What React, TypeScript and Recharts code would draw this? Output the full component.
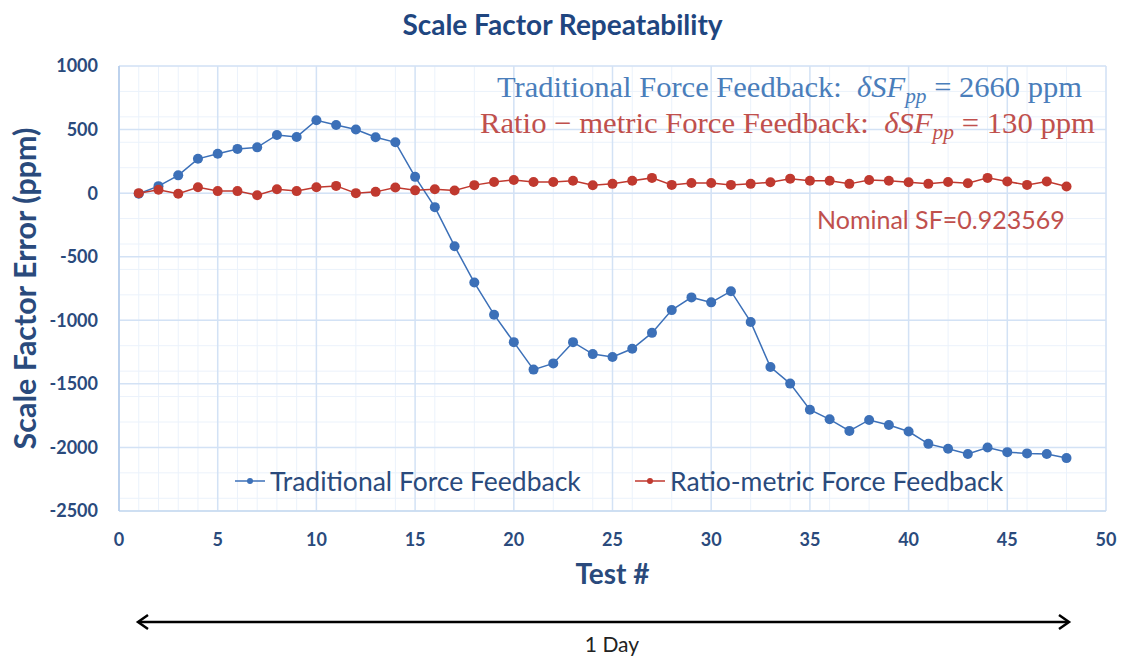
import React from 'react';
import { LineChart, Line, XAxis, YAxis, CartesianGrid, Label } from 'recharts';

// Test numbers (x) and scale factor error in ppm for each feedback scheme
const testNumbers = [
  1, 2, 3, 4, 5, 6, 7, 8, 9, 10, 11, 12, 13, 14, 15, 16, 17, 18, 19, 20, 21, 22, 23, 24,
  25, 26, 27, 28, 29, 30, 31, 32, 33, 34, 35, 36, 37, 38, 39, 40, 41, 42, 43, 44, 45, 46, 47, 48,
];
const traditional = [
  -5, 55, 140, 270, 310, 348, 360, 458, 442, 573, 536, 500, 440, 400, 128, -110,
  -417, -703, -956, -1172, -1388, -1339, -1172, -1266, -1289, -1224, -1099, -920, -820, -859, -771, -1013,
  -1368, -1498, -1703, -1779, -1870, -1784, -1823, -1875, -1972, -2011, -2052, -2000, -2037, -2047, -2052, -2084,
];
const ratiometric = [
  0, 26, -5, 47, 16, 16, -16, 31, 16, 47, 57, 0, 10, 44, 22, 31,
  21, 63, 88, 104, 88, 88, 98, 62, 73, 98, 120, 65, 80, 80, 65, 73,
  86, 114, 98, 98, 73, 104, 98, 86, 73, 88, 78, 120, 91, 65, 91, 52,
];

const xTicks = [0, 5, 10, 15, 20, 25, 30, 35, 40, 45, 50];
const yTicks = [-2500, -2000, -1500, -1000, -500, 0, 500, 1000];

const seriesNames = ['Traditional Force Feedback', 'Ratio-metric Force Feedback'];

const BLUE = '#3c70b8';
const RED = '#c0392f';
const NAVY = '#2a4a7c';

const data = testNumbers.map((t, i) => ({
  test: t,
  traditional: traditional[i],
  ratiometric: ratiometric[i],
}));

// minor grid every 1 test / 100 ppm
const xMinor = Array.from({ length: 51 }, (_, i) => i);
const yMinor = Array.from({ length: 36 }, (_, i) => -2500 + i * 100);

const FONT = 'Lato, "Open Sans", sans-serif';
const SERIF = '"Liberation Serif", serif';

const LegendItem = ({ left, color, label }: { left: number; color: string; label: string }) => (
  <div style={{ position: 'absolute', left, top: 465, display: 'flex', alignItems: 'center', height: 32 }}>
    <svg width={32} height={12} style={{ marginRight: 3 }}>
      <line x1={0} y1={6} x2={30} y2={6} stroke={color} strokeWidth={1.5} />
      <circle cx={15} cy={6} r={3} fill={color} />
    </svg>
    <span style={{ fontFamily: FONT, fontSize: 26.5, color: NAVY, whiteSpace: 'nowrap' }}>{label}</span>
  </div>
);

const App = () => {
  return (
    <div style={{ position: 'absolute', left: 0, top: 0, width: 1125, height: 661, background: '#fff' }}>
      <div
        style={{
          position: 'absolute',
          top: 7,
          left: 0,
          width: 1125,
          textAlign: 'center',
          fontFamily: FONT,
          fontWeight: 700,
          fontSize: 28,
          lineHeight: '34px',
          color: '#1f4680',
        }}
      >
        Scale Factor Repeatability
      </div>

      <LineChart width={1125} height={661} data={data} margin={{ top: 66, right: 19, bottom: 0, left: 0 }}>
        <CartesianGrid stroke="#ebf2fb" strokeWidth={1} verticalValues={xMinor} horizontalValues={yMinor} />
        <CartesianGrid stroke="#d3e2f5" strokeWidth={1.5} />
        <XAxis
          dataKey="test"
          type="number"
          domain={[0, 50]}
          ticks={xTicks}
          height={150}
          tickSize={0}
          tickMargin={22}
          axisLine={{ stroke: '#c9dbf1', strokeWidth: 1.5 }}
          tickLine={false}
          tick={{ fill: NAVY, fontSize: 18, fontWeight: 700, fontFamily: FONT }}
        >
          <Label
            value="Test #"
            position="insideTop"
            offset={53}
            style={{ fill: NAVY, fontSize: 28, fontWeight: 700, fontFamily: FONT }}
          />
        </XAxis>
        <YAxis
          type="number"
          domain={[-2500, 1000]}
          ticks={yTicks}
          width={119}
          tickSize={0}
          tickMargin={21}
          axisLine={{ stroke: '#b3cbea', strokeWidth: 1.5 }}
          tickLine={false}
          tick={{ fill: NAVY, fontSize: 18, fontWeight: 700, fontFamily: FONT }}
        >
          <Label
            value="Scale Factor Error (ppm)"
            angle={-90}
            position="insideLeft"
            offset={25}
            style={{ fill: NAVY, fontSize: 30.5, fontWeight: 700, fontFamily: FONT, textAnchor: 'middle' }}
          />
        </YAxis>
        <Line
          type="linear"
          dataKey="traditional"
          name={seriesNames[0]}
          stroke={BLUE}
          strokeWidth={1.5}
          dot={{ r: 5, fill: BLUE, stroke: BLUE, strokeWidth: 0 }}
          isAnimationActive={false}
        />
        <Line
          type="linear"
          dataKey="ratiometric"
          name={seriesNames[1]}
          stroke={RED}
          strokeWidth={1.5}
          dot={{ r: 5, fill: RED, stroke: RED, strokeWidth: 0 }}
          isAnimationActive={false}
        />
      </LineChart>

      <LegendItem left={235} color={BLUE} label={seriesNames[0]} />
      <LegendItem left={635} color={RED} label={seriesNames[1]} />

      <svg width={1125} height={661} style={{ position: 'absolute', left: 0, top: 0, pointerEvents: 'none' }}>
        <text
          x={497}
          y={97}
          fill="#4a7ebb"
          fontFamily={SERIF}
          fontSize={30}
          textLength={585}
          lengthAdjust="spacingAndGlyphs"
        >
          Traditional Force Feedback:{'\u00a0\u00a0'}
          <tspan fontStyle="italic">δSF</tspan>
          <tspan fontStyle="italic" fontSize={21} dy={6}>pp</tspan>
          <tspan dy={-6}> = 2660 ppm</tspan>
        </text>
        <text
          x={480}
          y={133}
          fill="#c0504d"
          fontFamily={SERIF}
          fontSize={30}
          textLength={615}
          lengthAdjust="spacingAndGlyphs"
        >
          Ratio − metric Force Feedback:{'\u00a0\u00a0'}
          <tspan fontStyle="italic">δSF</tspan>
          <tspan fontStyle="italic" fontSize={21} dy={6}>pp</tspan>
          <tspan dy={-6}> = 130 ppm</tspan>
        </text>
        <text x={817} y={229} fill="#c0504d" fontFamily={FONT} fontSize={25}>
          Nominal SF=0.923569
        </text>

        <line x1={139} y1={622} x2={1068} y2={622} stroke="#000" strokeWidth={2.5} />
        <polyline points="148,615 138,622 148,629" fill="none" stroke="#000" strokeWidth={2.5} />
        <polyline points="1059,615 1069,622 1059,629" fill="none" stroke="#000" strokeWidth={2.5} />
        <text x={612} y={652} textAnchor="middle" fill="#222" fontFamily={FONT} fontSize={21}>
          1 Day
        </text>
      </svg>
    </div>
  );
};

export default App;
